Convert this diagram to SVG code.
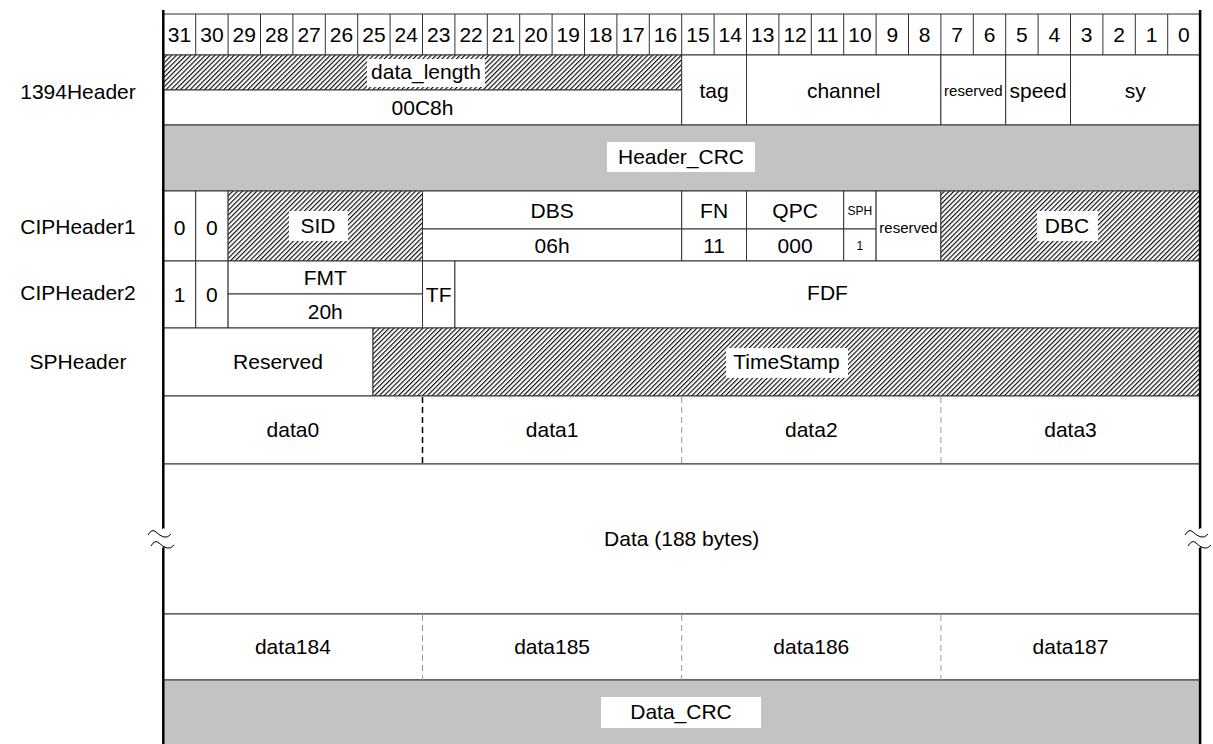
<svg xmlns="http://www.w3.org/2000/svg" width="1213" height="744" viewBox="0 0 1213 744">
<style>
.t{font-family:"Liberation Sans",Arial,sans-serif;font-size:21px;fill:#000;text-anchor:middle}
.s{font-size:15px}
.xs{font-size:12px}
.c{fill:#fff;stroke:#333;stroke-width:1}
.h{fill:url(#hatch);stroke:#333;stroke-width:1}
.g{fill:#c3c3c3;stroke:#333;stroke-width:1}
.lb{fill:#fff;stroke:none}
.ln{stroke:#333;stroke-width:1;fill:none}
.dk{stroke:#000;stroke-width:1.5;stroke-dasharray:6 4;fill:none}
.dl{stroke:#999;stroke-width:1;stroke-dasharray:6 4;fill:none}
.bd{stroke:#000;stroke-width:2.5;fill:none}
.sq{stroke:#000;stroke-width:1;fill:none}
</style>
<defs>
<pattern id="hatch" patternUnits="userSpaceOnUse" width="3.4" height="3.4" patternTransform="rotate(45)">
<rect width="3.4" height="3.4" fill="#fff"/>
<line x1="0.6" y1="0" x2="0.6" y2="3.4" stroke="#000" stroke-width="1.1"/>
</pattern>
</defs>
<rect width="1213" height="744" fill="#fff"/>

<g id="row-labels">
<text class="t" x="78" y="99">1394Header</text>
<text class="t" x="78" y="234">CIPHeader1</text>
<text class="t" x="78" y="300">CIPHeader2</text>
<text class="t" x="78" y="369">SPHeader</text>
</g>

<g id="bit-numbers">
<rect class="c" x="163.3" y="14" width="1036.8" height="41"/>
<path class="ln" d="M195.7 14V55M228.1 14V55M260.5 14V55M292.9 14V55M325.3 14V55M357.7 14V55M390.1 14V55M422.5 14V55M454.9 14V55M487.3 14V55M519.7 14V55M552.1 14V55M584.5 14V55M616.9 14V55M649.3 14V55M681.7 14V55M714.1 14V55M746.5 14V55M778.9 14V55M811.3 14V55M843.7 14V55M876.1 14V55M908.5 14V55M940.9 14V55M973.3 14V55M1005.7 14V55M1038.1 14V55M1070.5 14V55M1102.9 14V55M1135.3 14V55M1167.7 14V55"/>
<text class="t" y="42"><tspan x="179.5">31</tspan><tspan x="211.9">30</tspan><tspan x="244.3">29</tspan><tspan x="276.7">28</tspan><tspan x="309.1">27</tspan><tspan x="341.5">26</tspan><tspan x="373.9">25</tspan><tspan x="406.3">24</tspan><tspan x="438.7">23</tspan><tspan x="471.1">22</tspan><tspan x="503.5">21</tspan><tspan x="535.9">20</tspan><tspan x="568.3">19</tspan><tspan x="600.7">18</tspan><tspan x="633.1">17</tspan><tspan x="665.5">16</tspan><tspan x="697.9">15</tspan><tspan x="730.3">14</tspan><tspan x="762.7">13</tspan><tspan x="795.1">12</tspan><tspan x="827.5">11</tspan><tspan x="859.9">10</tspan><tspan x="892.3">9</tspan><tspan x="924.7">8</tspan><tspan x="957.1">7</tspan><tspan x="989.5">6</tspan><tspan x="1021.9">5</tspan><tspan x="1054.3">4</tspan><tspan x="1086.7">3</tspan><tspan x="1119.1">2</tspan><tspan x="1151.5">1</tspan><tspan x="1183.9">0</tspan></text>
</g>

<g id="data_length">
<rect class="h" x="163.3" y="55" width="518.4" height="35"/>
<rect class="lb" x="367" y="59" width="118" height="28"/>
<text class="t" x="426" y="79">data_length</text>
<rect class="c" x="163.3" y="90" width="518.4" height="35"/>
<text class="t" x="422.5" y="115">00C8h</text>
</g>
<g id="tag"><rect class="c" x="681.7" y="55" width="64.8" height="70"/><text class="t" x="714.1" y="98">tag</text></g>
<g id="channel"><rect class="c" x="746.5" y="55" width="194.4" height="70"/><text class="t" x="843.7" y="98">channel</text></g>
<g id="reserved1"><rect class="c" x="940.9" y="55" width="64.8" height="70"/><text class="t s" x="973.3" y="96">reserved</text></g>
<g id="speed"><rect class="c" x="1005.7" y="55" width="64.8" height="70"/><text class="t" x="1038.1" y="98">speed</text></g>
<g id="sy"><rect class="c" x="1070.5" y="55" width="129.6" height="70"/><text class="t" x="1135.3" y="98">sy</text></g>

<g id="header_crc">
<rect class="g" x="163.3" y="125" width="1036.8" height="66"/>
<rect class="lb" x="607" y="142" width="148" height="30"/>
<text class="t" x="681" y="164">Header_CRC</text>
</g>

<g id="cip1-b31"><rect class="c" x="163.3" y="191" width="32.4" height="70"/><text class="t" x="179.5" y="235">0</text></g>
<g id="cip1-b30"><rect class="c" x="195.7" y="191" width="32.4" height="70"/><text class="t" x="211.9" y="235">0</text></g>
<g id="sid">
<rect class="h" x="228.1" y="191" width="194.4" height="70"/>
<rect class="lb" x="289" y="211" width="59" height="30"/>
<text class="t" x="318" y="233">SID</text>
</g>
<g id="dbs">
<rect class="c" x="422.5" y="191" width="259.2" height="38"/>
<text class="t" x="552.1" y="218">DBS</text>
<rect class="c" x="422.5" y="229" width="259.2" height="32"/>
<text class="t" x="552.1" y="253">06h</text>
</g>
<g id="fn">
<rect class="c" x="681.7" y="191" width="64.8" height="38"/>
<text class="t" x="714.1" y="218">FN</text>
<rect class="c" x="681.7" y="229" width="64.8" height="32"/>
<text class="t" x="714.1" y="253">11</text>
</g>
<g id="qpc">
<rect class="c" x="746.5" y="191" width="97.2" height="38"/>
<text class="t" x="795.1" y="218">QPC</text>
<rect class="c" x="746.5" y="229" width="97.2" height="32"/>
<text class="t" x="795.1" y="253">000</text>
</g>
<g id="sph">
<rect class="c" x="843.7" y="191" width="32.4" height="38"/>
<text class="t xs" x="859.9" y="215">SPH</text>
<rect class="c" x="843.7" y="229" width="32.4" height="32"/>
<text class="t xs" x="859.9" y="250">1</text>
</g>
<g id="reserved2"><rect class="c" x="876.1" y="191" width="64.8" height="70"/><text class="t s" x="908.5" y="233">reserved</text></g>
<g id="dbc">
<rect class="h" x="940.9" y="191" width="259.2" height="70"/>
<rect class="lb" x="1037" y="211" width="61" height="30"/>
<text class="t" x="1067" y="233">DBC</text>
</g>

<g id="cip2-b31"><rect class="c" x="163.3" y="261" width="32.4" height="67"/><text class="t" x="179.5" y="302">1</text></g>
<g id="cip2-b30"><rect class="c" x="195.7" y="261" width="32.4" height="67"/><text class="t" x="211.9" y="302">0</text></g>
<g id="fmt">
<rect class="c" x="228.1" y="261" width="194.4" height="33"/>
<text class="t" x="325.3" y="285">FMT</text>
<rect class="c" x="228.1" y="294" width="194.4" height="34"/>
<text class="t" x="325.3" y="319">20h</text>
</g>
<g id="tf"><rect class="c" x="422.5" y="261" width="32.4" height="67"/><text class="t" x="438.7" y="302">TF</text></g>
<g id="fdf"><rect class="c" x="454.9" y="261" width="745.2" height="67"/><text class="t" x="827.5" y="300">FDF</text></g>

<g id="sp-reserved"><rect class="c" x="163.3" y="328" width="209.7" height="68"/><text class="t" x="278" y="369">Reserved</text></g>
<g id="timestamp">
<rect class="h" x="373" y="328" width="827.1" height="68"/>
<rect class="lb" x="726" y="348" width="122" height="30"/>
<text class="t" x="786.5" y="369">TimeStamp</text>
</g>

<g id="data-first">
<rect class="c" x="163.3" y="396" width="1036.8" height="68"/>
<text class="t" x="292.9" y="437">data0</text>
<text class="t" x="552.1" y="437">data1</text>
<text class="t" x="811.3" y="437">data2</text>
<text class="t" x="1070.5" y="437">data3</text>
</g>
<g id="data-body">
<rect class="c" x="163.3" y="464" width="1036.8" height="150"/>
<text class="t" x="681.7" y="546">Data (188 bytes)</text>
</g>
<g id="data-last">
<rect class="c" x="163.3" y="614" width="1036.8" height="66"/>
<text class="t" x="292.9" y="654">data184</text>
<text class="t" x="552.1" y="654">data185</text>
<text class="t" x="811.3" y="654">data186</text>
<text class="t" x="1070.5" y="654">data187</text>
</g>
<g id="data_crc">
<rect class="g" x="163.3" y="680" width="1036.8" height="70"/>
<rect class="lb" x="601" y="697" width="160" height="31"/>
<text class="t" x="681" y="719">Data_CRC</text>
</g>

<g id="connectors">
<path class="dk" d="M422.5 397V464"/>
<path class="dl" d="M681.7 397V464M940.9 397V464M422.5 615V680M681.7 615V680M940.9 615V680"/>
<path class="bd" d="M163.3 10V744M1200.1 10V744"/>
<g id="break-left">
<path d="M150 536 L164 528 L176 540 L162 548 Z" fill="#fff" stroke="none"/>
<path class="sq" d="M148 535q4-7 8-3t8 5t7-3M151 546q4-7 8-3t8 5t7-3"/>
</g>
<g id="break-right">
<path d="M1187 536 L1201 528 L1213 540 L1199 548 Z" fill="#fff" stroke="none"/>
<path class="sq" d="M1185 535q4-7 8-3t8 5t7-3M1188 546q4-7 8-3t8 5t7-3"/>
</g>
</g>
</svg>
